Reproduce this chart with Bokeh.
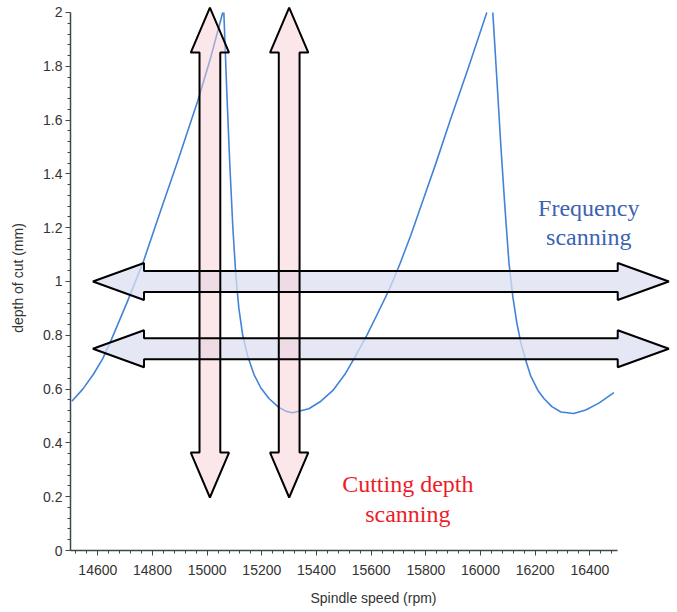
import numpy as np
from bokeh.plotting import figure
from bokeh.models import Range1d, SingleIntervalTicker, CustomJSTickFormatter, BasicTickFormatter
from bokeh.core.properties import value
from bokeh.embed import file_html
from bokeh.resources import INLINE

# ---- stability lobe boundary: spindle speed (rpm) vs depth of cut (mm)
# lobe A (left, rising part)
lobeA_rpm = [14505, 14545, 14585, 14618, 14648, 14710, 14768, 14830, 14893, 14966, 15013, 15057]
lobeA_depth = [0.555, 0.60, 0.657, 0.713, 0.78, 0.93, 1.078, 1.264, 1.45, 1.673, 1.833, 2.0]
# lobe B (middle, full)
lobeB_rpm = [15061, 15072, 15083, 15094, 15105, 15116, 15130, 15149, 15171, 15196, 15226,
             15262, 15288, 15313, 15372, 15416, 15460, 15504, 15544, 15584, 15624, 15665,
             15705, 15745, 15789, 15837, 15891, 15954, 16023]
lobeB_depth = [2.0, 1.70, 1.43, 1.20, 1.02, 0.90, 0.80, 0.72, 0.655, 0.605, 0.565,
               0.532, 0.518, 0.512, 0.527, 0.555, 0.595, 0.655, 0.725, 0.80, 0.882, 0.968,
               1.065, 1.172, 1.30, 1.44, 1.605, 1.79, 2.0]
# lobe C (right, falling part)
lobeC_rpm = [16045, 16060, 16074, 16089, 16104, 16118, 16133, 16148, 16166, 16184, 16210,
             16232, 16261, 16294, 16341, 16385, 16433, 16488]
lobeC_depth = [2.0, 1.75, 1.51, 1.28, 1.07, 0.945, 0.845, 0.77, 0.705, 0.648, 0.595,
               0.565, 0.535, 0.515, 0.509, 0.522, 0.548, 0.587]

# ---- scanning arrows (annotation positions in data units)
vert_arrow_rpm = [15010, 15300]          # cutting-depth scanning arrows
vert_arrow_span = [0.197, 2.018]         # bottom tip, top tip (mm)
horiz_arrow_depth = [1.0, 0.75]          # frequency scanning arrows
horiz_arrow_span = [14582, 16689]        # left tip, right tip (rpm)

x_ticks_interval = 200
y_ticks_interval = 0.2

W, H = 676, 610
p = figure(width=W, height=H, output_backend="svg", toolbar_location=None,
           x_range=Range1d(14500, 16717), y_range=Range1d(0, 2.026),
           min_border_left=70, min_border_right=0, min_border_top=5, min_border_bottom=60)
p.outline_line_color = None
p.xgrid.visible = False
p.ygrid.visible = False
p.background_fill_color = "white"

# curve
for xs, ys in ((lobeA_rpm, lobeA_depth), (lobeB_rpm, lobeB_depth), (lobeC_rpm, lobeC_depth)):
    p.line(xs, ys, line_color="#4283d8", line_width=1.6, line_join="round")

# arrows
def vert_arrow(c, yb, yt, sw=38, hw=70, hl=0.167):
    xs = [c, c + hw, c + sw, c + sw, c + hw, c, c - hw, c - sw, c - sw, c - hw]
    ys = [yt, yt - hl, yt - hl, yb + hl, yb + hl, yb, yb + hl, yb + hl, yt - hl, yt - hl]
    return xs, ys

def horiz_arrow(c, xl, xr, sh=0.039, hh=0.069, hl=187):
    xs = [xl, xl + hl, xl + hl, xr - hl, xr - hl, xr, xr - hl, xr - hl, xl + hl, xl + hl]
    ys = [c, c + hh, c + sh, c + sh, c + hh, c, c - hh, c - sh, c - sh, c - hh]
    return xs, ys

hx, hy = [], []
for d in horiz_arrow_depth:
    a, b = horiz_arrow(d, horiz_arrow_span[0], horiz_arrow_span[1])
    hx.append(a); hy.append(b)
vx, vy = [], []
for r in vert_arrow_rpm:
    a, b = vert_arrow(r, vert_arrow_span[0], vert_arrow_span[1])
    vx.append(a); vy.append(b)

p.patches(hx, hy, fill_color="#dcdff2", fill_alpha=0.75, line_alpha=0)
p.patches(vx, vy, fill_color="#f7cfd3", fill_alpha=0.5, line_alpha=0)
p.patches(hx, hy, fill_alpha=0, line_color="black", line_width=2)
p.patches(vx, vy, fill_alpha=0, line_color="black", line_width=2)

# texts
serif = value("Liberation Serif")
p.text(x=[16396, 16396], y=[1.275, 1.164], text=["Frequency", "scanning"],
       text_font=serif, text_font_size="24px", text_color="#3c62b4",
       text_align="center", text_baseline="middle")
p.text(x=[15734, 15734], y=[0.249, 0.1375], text=["Cutting depth", "scanning"],
       text_font=serif, text_font_size="24px", text_color="#ec1c2a",
       text_align="center", text_baseline="middle")

# axes
p.xaxis.ticker = SingleIntervalTicker(interval=x_ticks_interval, num_minor_ticks=5)
p.yaxis.ticker = SingleIntervalTicker(interval=y_ticks_interval, num_minor_ticks=5)
p.xaxis.bounds = (14500, 16500)
p.yaxis.bounds = (0, 2)
p.xaxis.formatter = BasicTickFormatter(use_scientific=False)
p.yaxis.formatter = CustomJSTickFormatter(code="return (Math.round(tick*10)/10).toString();")
p.xaxis.axis_label = "Spindle speed (rpm)"
p.yaxis.axis_label = "depth of cut (mm)"
for ax in (p.xaxis, p.yaxis):
    ax.axis_line_color = "#3a4a4a"
    ax.axis_line_width = 1.5
    ax.major_tick_line_color = "#3a4a4a"
    ax.minor_tick_line_color = "#3a4a4a"
    ax.major_tick_in = 0
    ax.major_tick_out = 5
    ax.minor_tick_in = 0
    ax.minor_tick_out = 3
    ax.major_label_text_font = "Liberation Sans"
    ax.major_label_text_font_size = "14px"
    ax.major_label_text_color = "#333333"
    ax.axis_label_text_font = "Liberation Sans"
    ax.axis_label_text_font_size = "14px"
    ax.axis_label_text_font_style = "normal"
    ax.axis_label_text_color = "#333333"
p.xaxis.major_label_standoff = 9
p.xaxis.axis_label_standoff = 12
p.yaxis.major_label_standoff = 3
p.yaxis.axis_label_standoff = 14

open("out.html", "w").write(file_html(p, INLINE))
